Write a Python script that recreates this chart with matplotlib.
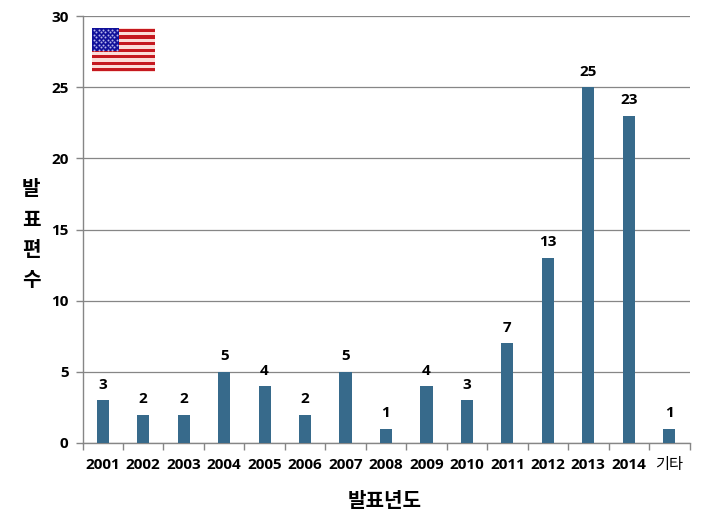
import matplotlib
matplotlib.use('Agg')
import matplotlib.pyplot as plt
from matplotlib.patches import Rectangle

plt.rcParams['font.family'] = ['Open Sans', 'Noto Sans CJK KR', 'DejaVu Sans']

years = ['2001', '2002', '2003', '2004', '2005', '2006', '2007', '2008',
         '2009', '2010', '2011', '2012', '2013', '2014', '기타']
counts = [3, 2, 2, 5, 4, 2, 5, 1, 4, 3, 7, 13, 25, 23, 1]
yticks = [0, 5, 10, 15, 20, 25, 30]

W, H = 704, 532
fig = plt.figure(figsize=(W / 100, H / 100), dpi=100)
ax = fig.add_axes([82.5 / W, 1 - 443 / H, 607 / W, 427 / H])

xs = list(range(len(years)))
ax.bar(xs, counts, width=0.3, color='#376A8B', zorder=3)
for x, c in zip(xs, counts):
    ax.text(x, c + 0.6, str(c), ha='center', va='bottom', fontsize=11,
            fontweight='bold', color='black')

ax.set_xlim(-0.5, len(years) - 0.5)
ax.set_ylim(0, 30)
ax.set_yticks(yticks)
ax.set_xticks([x - 0.5 for x in xs] + [len(years) - 0.5])
ax.set_xticklabels([])
ax.tick_params(axis='x', length=5, width=1, color='#868686')
ax.tick_params(axis='y', length=5, width=1, color='#868686', pad=5)
for lab in ax.get_yticklabels():
    lab.set_fontsize(11)
    lab.set_fontweight('bold')
ax.grid(axis='y', color='#868686', linewidth=0.9, zorder=0)
ax.set_axisbelow(True)
for side in ['top', 'right']:
    ax.spines[side].set_visible(False)
for side in ['left', 'bottom']:
    ax.spines[side].set_color('#868686')
    ax.spines[side].set_linewidth(1)

# category labels sit a little lower than a normal tick label
for x, name in zip(xs, years):
    if name == '기타':
        ax.annotate(name, (x, 0), xytext=(0, -11), xycoords=('data', 'axes fraction'),
                    textcoords='offset points', ha='center', va='top', fontsize=11)
    else:
        ax.annotate(name, (x, 0), xytext=(0, -10.5), xycoords=('data', 'axes fraction'),
                    textcoords='offset points', ha='center', va='top', fontsize=11,
                    fontweight='bold')

fig.text(385 / W, 1 - 502 / H, '발표년도', ha='center', va='center', fontsize=14.5,
         fontweight='bold')
for ch, py in zip('발표편수', [190, 221, 251, 281]):
    fig.text(31 / W, 1 - py / H, ch, ha='center', va='center', fontsize=14.5,
             fontweight='bold')

# flag, top left corner
flag = fig.add_axes([92 / W, 1 - 72 / H, 63 / W, 44 / H])
flag.set_xlim(0, 63)
flag.set_ylim(44, 0)
flag.axis('off')
flag.add_patch(Rectangle((0, 0), 63, 44, color='#FBDDD8', lw=0))
for i in range(7):
    flag.add_patch(Rectangle((0, 1 + i * 6.5), 63, 3.4, color='#C5181F', lw=0))
flag.add_patch(Rectangle((0, 0.5), 27, 23, color='#10109A', lw=0))
star_x = []
star_y = []
for row in range(9):
    n = 6 if row % 2 == 0 else 5
    for col in range(n):
        star_x.append(2.2 + col * 4.5 + (0 if row % 2 == 0 else 2.25))
        star_y.append(2 + row * 2.5)
flag.scatter(star_x, star_y, s=2, color='#B8B8EC', lw=0)

fig.savefig('out.png', dpi=100)
